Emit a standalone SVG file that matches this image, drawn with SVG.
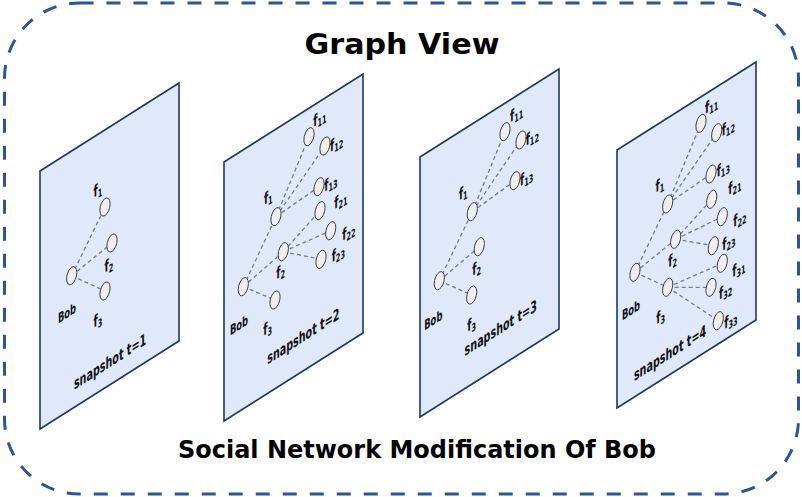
<svg xmlns="http://www.w3.org/2000/svg" xmlns:xlink="http://www.w3.org/1999/xlink" width="802" height="497" viewBox="0 0 802 497">
<style>
.frame{fill:none;stroke:#2f5597;stroke-width:3;stroke-dasharray:14 13}
.pn{fill:#dfe9fb;stroke:#1f3864;stroke-width:1.6;stroke-linejoin:miter}
.nd{fill:#efefef;stroke:#3c3c3c;stroke-width:1;vector-effect:non-scaling-stroke}
.ed{stroke:#6d7c98;stroke-width:1.3;stroke-dasharray:4 3;fill:none}
.lb{font-family:"DejaVu Sans","Liberation Sans",sans-serif;font-size:16px;font-weight:bold;fill:#111;text-anchor:middle}
.sb{font-size:11px}
.bob{font-family:"DejaVu Sans","Liberation Sans",sans-serif;font-size:14px;font-weight:bold;fill:#111;text-anchor:middle}
.snap{font-family:"DejaVu Sans","Liberation Sans",sans-serif;font-size:16px;font-weight:bold;fill:#111;text-anchor:middle}
.title{font-family:"DejaVu Sans","Liberation Sans",sans-serif;font-weight:bold;fill:#000;text-anchor:middle}
</style>
<defs>
<ellipse id="n" cx="0" cy="0" rx="8.5" ry="8.5" class="nd"/>
</defs>
<rect class="frame" x="4.5" y="3" width="794" height="491" rx="75" ry="75"/>
<text class="title" x="402" y="54" font-size="29" textLength="195" lengthAdjust="spacingAndGlyphs">Graph View</text>
<text class="title" x="417" y="458" font-size="25" textLength="478" lengthAdjust="spacingAndGlyphs">Social Network Modification Of Bob</text>

<g id="panels">
<polygon id="panel1" class="pn" points="40,171 179,83 179,341 40,429"/>
<polygon id="panel2" class="pn" points="224,162 363,74 363,333 224,421"/>
<polygon id="panel3" class="pn" points="420,157 559,69 559,329 420,417"/>
<polygon id="panel4" class="pn" points="617,150 756,62 756,320 617,408"/>
</g>

<g id="connectors">
<line class="ed" x1="71.7" y1="275.7" x2="105" y2="207"/>
<line class="ed" x1="71.7" y1="275.7" x2="112" y2="243"/>
<line class="ed" x1="71.7" y1="275.7" x2="105" y2="291"/>
<line class="ed" x1="243.3" y1="286.7" x2="276" y2="216.7"/>
<line class="ed" x1="243.3" y1="286.7" x2="283.3" y2="251.7"/>
<line class="ed" x1="243.3" y1="286.7" x2="275" y2="300"/>
<line class="ed" x1="276" y1="216.7" x2="309" y2="136.7"/>
<line class="ed" x1="276" y1="216.7" x2="325" y2="146"/>
<line class="ed" x1="276" y1="216.7" x2="319" y2="186.7"/>
<line class="ed" x1="283.3" y1="251.7" x2="320" y2="210.7"/>
<line class="ed" x1="283.3" y1="251.7" x2="330.7" y2="230.7"/>
<line class="ed" x1="283.3" y1="251.7" x2="321" y2="259.3"/>
<line class="ed" x1="439.3" y1="280.7" x2="472.3" y2="211.7"/>
<line class="ed" x1="439.3" y1="280.7" x2="479.3" y2="246.7"/>
<line class="ed" x1="439.3" y1="280.7" x2="471.7" y2="295"/>
<line class="ed" x1="472.3" y1="211.7" x2="505" y2="131.7"/>
<line class="ed" x1="472.3" y1="211.7" x2="521" y2="140"/>
<line class="ed" x1="472.3" y1="211.7" x2="515" y2="180.7"/>
<line class="ed" x1="635" y1="272.3" x2="667.7" y2="204"/>
<line class="ed" x1="635" y1="272.3" x2="675.7" y2="239.3"/>
<line class="ed" x1="635" y1="272.3" x2="667.7" y2="287.3"/>
<line class="ed" x1="667.7" y1="204" x2="701" y2="123.3"/>
<line class="ed" x1="667.7" y1="204" x2="716.7" y2="132.7"/>
<line class="ed" x1="667.7" y1="204" x2="711" y2="174"/>
<line class="ed" x1="675.7" y1="239.3" x2="711.7" y2="199.3"/>
<line class="ed" x1="675.7" y1="239.3" x2="722.3" y2="216.7"/>
<line class="ed" x1="675.7" y1="239.3" x2="713.3" y2="245.7"/>
<line class="ed" x1="667.7" y1="287.3" x2="722.3" y2="263.3"/>
<line class="ed" x1="667.7" y1="287.3" x2="711" y2="287.3"/>
<line class="ed" x1="667.7" y1="287.3" x2="718.3" y2="320.7"/>
</g>

<g id="p1-bob"><use href="#n" transform="matrix(0.6,-0.38,0,1,71.7,275.7)"/><text class="bob" transform="matrix(0.6,-0.38,0,1,67,313)" y="5">Bob</text></g>
<g id="p1-f1"><use href="#n" transform="matrix(0.6,-0.38,0,1,105,207)"/><text class="lb" transform="matrix(0.6,-0.38,0,1,98,190)" y="5">f<tspan class="sb" dy="3">1</tspan></text></g>
<g id="p1-f2"><use href="#n" transform="matrix(0.6,-0.38,0,1,112,243)"/><text class="lb" transform="matrix(0.6,-0.38,0,1,109,265)" y="5">f<tspan class="sb" dy="3">2</tspan></text></g>
<g id="p1-f3"><use href="#n" transform="matrix(0.6,-0.38,0,1,105,291)"/><text class="lb" transform="matrix(0.6,-0.38,0,1,98,320)" y="5">f<tspan class="sb" dy="3">3</tspan></text></g>
<g id="p1-label"><text class="snap" transform="matrix(0.6,-0.38,0,1,110,362)" y="5">snapshot t=1</text></g>

<g id="p2-bob"><use href="#n" transform="matrix(0.6,-0.38,0,1,243.3,286.7)"/><text class="bob" transform="matrix(0.6,-0.38,0,1,239,325)" y="5">Bob</text></g>
<g id="p2-f1"><use href="#n" transform="matrix(0.6,-0.38,0,1,276,216.7)"/><text class="lb" transform="matrix(0.6,-0.38,0,1,268.3,197.3)" y="5">f<tspan class="sb" dy="3">1</tspan></text></g>
<g id="p2-f2"><use href="#n" transform="matrix(0.6,-0.38,0,1,283.3,251.7)"/><text class="lb" transform="matrix(0.6,-0.38,0,1,280.7,271.7)" y="5">f<tspan class="sb" dy="3">2</tspan></text></g>
<g id="p2-f3"><use href="#n" transform="matrix(0.6,-0.38,0,1,275,300)"/><text class="lb" transform="matrix(0.6,-0.38,0,1,267.7,328.3)" y="5">f<tspan class="sb" dy="3">3</tspan></text></g>
<g id="p2-f11"><use href="#n" transform="matrix(0.6,-0.38,0,1,309,136.7)"/><text class="lb" transform="matrix(0.6,-0.38,0,1,320,118)" y="5">f<tspan class="sb" dy="3">11</tspan></text></g>
<g id="p2-f12"><use href="#n" transform="matrix(0.6,-0.38,0,1,325,146)"/><text class="lb" transform="matrix(0.6,-0.38,0,1,336.7,143)" y="5">f<tspan class="sb" dy="3">12</tspan></text></g>
<g id="p2-f13"><use href="#n" transform="matrix(0.6,-0.38,0,1,319,186.7)"/><text class="lb" transform="matrix(0.6,-0.38,0,1,331,182.7)" y="5">f<tspan class="sb" dy="3">13</tspan></text></g>
<g id="p2-f21"><use href="#n" transform="matrix(0.6,-0.38,0,1,320,210.7)"/><text class="lb" transform="matrix(0.6,-0.38,0,1,341,200)" y="5">f<tspan class="sb" dy="3">21</tspan></text></g>
<g id="p2-f22"><use href="#n" transform="matrix(0.6,-0.38,0,1,330.7,230.7)"/><text class="lb" transform="matrix(0.6,-0.38,0,1,349,231.7)" y="5">f<tspan class="sb" dy="3">22</tspan></text></g>
<g id="p2-f23"><use href="#n" transform="matrix(0.6,-0.38,0,1,321,259.3)"/><text class="lb" transform="matrix(0.6,-0.38,0,1,338.3,253.3)" y="5">f<tspan class="sb" dy="3">23</tspan></text></g>
<g id="p2-label"><text class="snap" transform="matrix(0.6,-0.38,0,1,303.3,336.7)" y="5">snapshot t=2</text></g>

<g id="p3-bob"><use href="#n" transform="matrix(0.6,-0.38,0,1,439.3,280.7)"/><text class="bob" transform="matrix(0.6,-0.38,0,1,433.3,320)" y="5">Bob</text></g>
<g id="p3-f1"><use href="#n" transform="matrix(0.6,-0.38,0,1,472.3,211.7)"/><text class="lb" transform="matrix(0.6,-0.38,0,1,463.3,192.7)" y="5">f<tspan class="sb" dy="3">1</tspan></text></g>
<g id="p3-f2"><use href="#n" transform="matrix(0.6,-0.38,0,1,479.3,246.7)"/><text class="lb" transform="matrix(0.6,-0.38,0,1,476.7,268.3)" y="5">f<tspan class="sb" dy="3">2</tspan></text></g>
<g id="p3-f3"><use href="#n" transform="matrix(0.6,-0.38,0,1,471.7,295)"/><text class="lb" transform="matrix(0.6,-0.38,0,1,471.7,324.3)" y="5">f<tspan class="sb" dy="3">3</tspan></text></g>
<g id="p3-f11"><use href="#n" transform="matrix(0.6,-0.38,0,1,505,131.7)"/><text class="lb" transform="matrix(0.6,-0.38,0,1,516.7,113.3)" y="5">f<tspan class="sb" dy="3">11</tspan></text></g>
<g id="p3-f12"><use href="#n" transform="matrix(0.6,-0.38,0,1,521,140)"/><text class="lb" transform="matrix(0.6,-0.38,0,1,532.3,136.7)" y="5">f<tspan class="sb" dy="3">12</tspan></text></g>
<g id="p3-f13"><use href="#n" transform="matrix(0.6,-0.38,0,1,515,180.7)"/><text class="lb" transform="matrix(0.6,-0.38,0,1,526.7,177.3)" y="5">f<tspan class="sb" dy="3">13</tspan></text></g>
<g id="p3-label"><text class="snap" transform="matrix(0.6,-0.38,0,1,500.7,328.3)" y="5">snapshot t=3</text></g>

<g id="p4-bob"><use href="#n" transform="matrix(0.6,-0.38,0,1,635,272.3)"/><text class="bob" transform="matrix(0.6,-0.38,0,1,631,310)" y="5">Bob</text></g>
<g id="p4-f1"><use href="#n" transform="matrix(0.6,-0.38,0,1,667.7,204)"/><text class="lb" transform="matrix(0.6,-0.38,0,1,660,185)" y="5">f<tspan class="sb" dy="3">1</tspan></text></g>
<g id="p4-f2"><use href="#n" transform="matrix(0.6,-0.38,0,1,675.7,239.3)"/><text class="lb" transform="matrix(0.6,-0.38,0,1,672.7,260)" y="5">f<tspan class="sb" dy="3">2</tspan></text></g>
<g id="p4-f3"><use href="#n" transform="matrix(0.6,-0.38,0,1,667.7,287.3)"/><text class="lb" transform="matrix(0.6,-0.38,0,1,660.7,316.7)" y="5">f<tspan class="sb" dy="3">3</tspan></text></g>
<g id="p4-f11"><use href="#n" transform="matrix(0.6,-0.38,0,1,701,123.3)"/><text class="lb" transform="matrix(0.6,-0.38,0,1,711.7,105)" y="5">f<tspan class="sb" dy="3">11</tspan></text></g>
<g id="p4-f12"><use href="#n" transform="matrix(0.6,-0.38,0,1,716.7,132.7)"/><text class="lb" transform="matrix(0.6,-0.38,0,1,728.3,127.3)" y="5">f<tspan class="sb" dy="3">12</tspan></text></g>
<g id="p4-f13"><use href="#n" transform="matrix(0.6,-0.38,0,1,711,174)"/><text class="lb" transform="matrix(0.6,-0.38,0,1,723.3,168.3)" y="5">f<tspan class="sb" dy="3">13</tspan></text></g>
<g id="p4-f21"><use href="#n" transform="matrix(0.6,-0.38,0,1,711.7,199.3)"/><text class="lb" transform="matrix(0.6,-0.38,0,1,735,186)" y="5">f<tspan class="sb" dy="3">21</tspan></text></g>
<g id="p4-f22"><use href="#n" transform="matrix(0.6,-0.38,0,1,722.3,216.7)"/><text class="lb" transform="matrix(0.6,-0.38,0,1,740,218.3)" y="5">f<tspan class="sb" dy="3">22</tspan></text></g>
<g id="p4-f23"><use href="#n" transform="matrix(0.6,-0.38,0,1,713.3,245.7)"/><text class="lb" transform="matrix(0.6,-0.38,0,1,729,241.7)" y="5">f<tspan class="sb" dy="3">23</tspan></text></g>
<g id="p4-f31"><use href="#n" transform="matrix(0.6,-0.38,0,1,722.3,263.3)"/><text class="lb" transform="matrix(0.6,-0.38,0,1,739,268.3)" y="5">f<tspan class="sb" dy="3">31</tspan></text></g>
<g id="p4-f32"><use href="#n" transform="matrix(0.6,-0.38,0,1,711,287.3)"/><text class="lb" transform="matrix(0.6,-0.38,0,1,725.7,290.7)" y="5">f<tspan class="sb" dy="3">32</tspan></text></g>
<g id="p4-f33"><use href="#n" transform="matrix(0.6,-0.38,0,1,718.3,320.7)"/><text class="lb" transform="matrix(0.6,-0.38,0,1,731,320)" y="5">f<tspan class="sb" dy="3">33</tspan></text></g>
<g id="p4-label"><text class="snap" transform="matrix(0.6,-0.38,0,1,670,353.3)" y="5">snapshot t=4</text></g>
</svg>
